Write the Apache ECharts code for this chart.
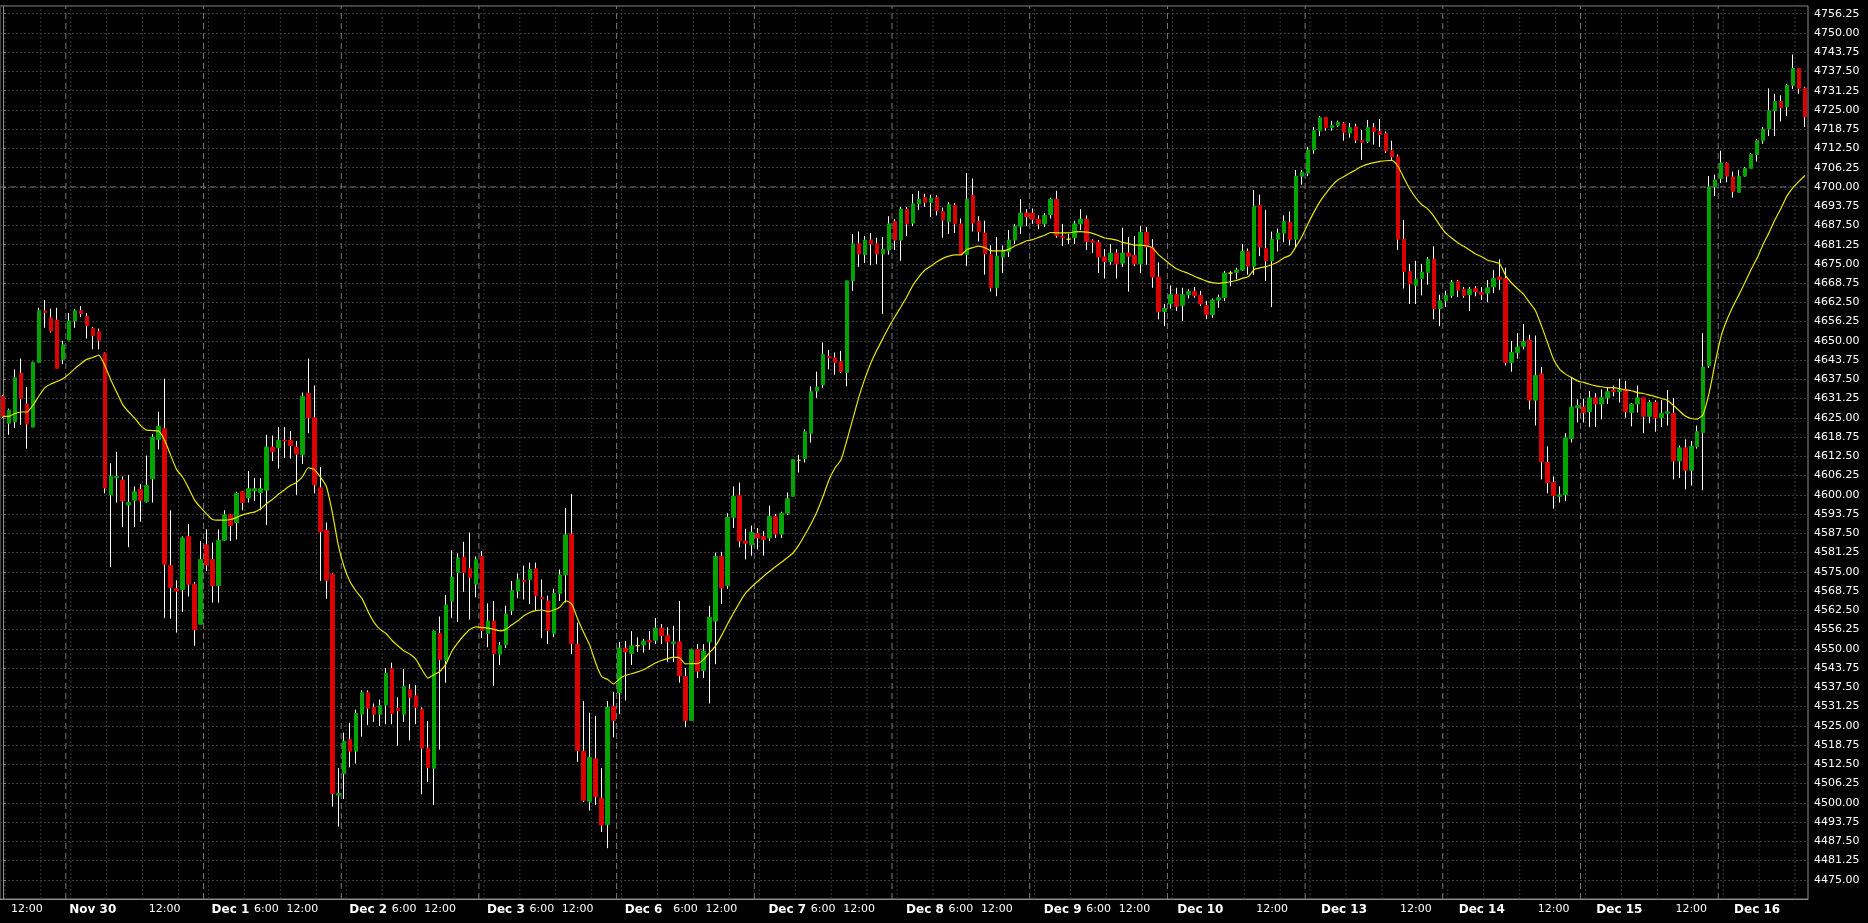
<!DOCTYPE html>
<html><head><meta charset="utf-8">
<script src="https://cdn.jsdelivr.net/npm/echarts@6/dist/echarts.min.js"></script>
<style>html,body{margin:0;padding:0;background:#000;}#c{width:1868px;height:923px;}</style>
</head><body><div id="c"></div>
<script>
// ---- data (hourly bars, 23 bars per trading day) ----
const sessionNames = ['Nov 29','Nov 30','Dec 1','Dec 2','Dec 3','Dec 6','Dec 7','Dec 8','Dec 9','Dec 10','Dec 13','Dec 14','Dec 15','Dec 16'];
const opens = [
4632.0,4623.25,4623.75,4639.5,4629.5,4622.0,4643.0,4659.75,4657.5,4656.75,4644.0,
4650.25,4656.5,4659.75,4658.0,4654.0,4653.0,4646.0,4600.0,4605.5,4604.75,4596.75,4598.25,4601.75,4597.75,4605.25,4618.0,4621.5,4577.0,4569.5,4569.25,4586.5,4571.0,4558.0,
4583.75,4579.0,4570.5,4585.25,4593.5,4591.0,4601.0,4599.0,4601.25,4600.75,4601.5,4615.5,4615.25,4617.75,4617.75,4615.5,4613.0,4633.0,4625.0,4602.25,4588.5,4574.25,4502.5,
4509.5,4520.5,4516.75,4528.75,4535.75,4531.0,4528.75,4531.75,4543.5,4530.75,4528.75,4536.75,4534.75,4530.25,4517.75,4511.25,4555.0,4546.25,4565.5,4574.75,4579.75,4576.0,4571.0,
4580.0,4555.0,4559.0,4548.25,4551.25,4562.5,4568.75,4572.25,4572.5,4576.0,4566.75,4565.5,4555.0,4568.0,4574.0,4587.25,4551.5,4516.75,4500.5,4514.25,4501.5,4493.0,4531.25,
4535.75,4550.25,4548.5,4551.0,4551.25,4552.75,4552.75,4556.75,4554.25,4551.75,4552.25,4541.0,4526.75,4549.75,4543.0,4552.25,4559.0,4580.0,4570.5,4592.75,4599.75,4585.0,4583.75,
4587.5,4586.5,4586.0,4593.0,4587.25,4594.0,4599.5,4611.25,4611.75,4620.0,4633.75,4635.75,4645.0,4644.5,4643.25,4639.75,4669.5,4681.5,4678.0,4682.75,4681.5,4678.25,4679.5,
4688.75,4682.75,4692.75,4688.25,4694.5,4696.5,4695.0,4696.5,4692.0,4688.75,4694.0,4688.0,4678.0,4697.25,4688.75,4685.0,4678.0,4667.25,4677.25,4679.0,4682.75,4687.25,4691.5,
4691.5,4689.5,4688.0,4691.0,4696.0,4684.0,4683.0,4683.5,4688.0,4689.5,4682.5,4682.0,4677.25,4675.75,4678.5,4675.25,4678.5,4677.75,4675.0,4685.25,4680.25,4670.75,4659.5,
4662.0,4665.0,4661.5,4665.0,4666.0,4664.75,4661.5,4658.5,4663.25,4664.0,4672.0,4672.25,4673.0,4679.0,4674.25,4694.0,4680.0,4676.0,4683.0,4685.0,4688.5,4683.0,4703.5,
4704.5,4712.0,4718.25,4722.5,4719.25,4720.0,4720.5,4717.5,4719.5,4715.0,4714.75,4719.25,4718.0,4717.25,4711.75,4709.75,4683.0,4672.5,4668.0,4670.25,4672.25,4676.5,4660.5,
4663.0,4664.75,4669.25,4666.75,4665.0,4667.0,4665.75,4665.5,4667.5,4670.75,4670.25,4643.0,4646.25,4648.25,4650.25,4630.75,4639.25,4610.5,4604.0,4599.5,4600.0,4618.25,4628.25,
4628.5,4627.0,4631.5,4629.5,4631.5,4634.0,4633.5,4634.25,4626.75,4629.5,4631.5,4625.5,4630.0,4625.0,4626.5,4626.5,4611.0,4615.25,4608.0,4615.75,4620.25,4642.0,4700.0,
4702.75,4707.75,4703.25,4698.25,4703.5,4706.0,4710.5,4715.0,4718.75,4724.75,4727.75,4726.0,4733.0,4738.5,4732.0];
const highs = [
4632.5,4628.0,4640.75,4644.25,4635.0,4643.25,4660.75,4663.25,4660.5,4660.75,4650.0,
4659.0,4660.25,4661.25,4659.0,4654.5,4654.0,4646.25,4610.25,4614.0,4606.0,4606.5,4602.75,4603.5,4612.75,4619.75,4627.0,4637.75,4595.0,4572.25,4586.5,4590.5,4571.75,4585.0,
4588.75,4584.5,4588.75,4595.0,4593.75,4601.0,4601.25,4607.75,4605.5,4605.5,4619.5,4619.25,4622.0,4622.0,4620.75,4617.5,4633.25,4644.25,4635.5,4609.0,4591.0,4574.5,4511.25,
4522.75,4526.0,4530.25,4536.5,4536.5,4532.25,4533.5,4543.75,4545.5,4534.25,4543.5,4538.5,4538.25,4531.0,4526.5,4556.0,4560.5,4567.5,4582.0,4581.0,4584.75,4587.75,4580.0,
4581.75,4564.75,4565.5,4552.25,4564.0,4572.0,4574.5,4577.0,4578.0,4578.0,4572.5,4567.25,4569.5,4575.75,4595.75,4600.25,4558.5,4533.0,4529.25,4528.25,4511.25,4533.0,4536.0,
4552.25,4552.5,4555.75,4553.75,4553.25,4555.75,4560.0,4558.0,4557.0,4557.5,4565.5,4543.75,4550.0,4551.5,4551.5,4564.0,4581.25,4581.5,4594.0,4602.75,4604.0,4589.0,4590.0,
4589.25,4588.25,4596.5,4593.75,4594.5,4600.75,4611.5,4613.0,4621.25,4635.25,4640.0,4649.5,4647.0,4646.25,4646.75,4669.5,4684.75,4685.5,4684.0,4685.0,4683.5,4683.75,4690.5,
4689.5,4693.5,4693.5,4697.75,4698.75,4697.75,4697.5,4697.25,4693.25,4695.0,4694.75,4689.75,4704.5,4702.75,4690.5,4689.0,4681.0,4683.75,4681.0,4686.0,4688.0,4696.0,4692.75,
4693.0,4690.75,4691.5,4696.5,4698.75,4688.0,4684.75,4689.0,4692.75,4690.75,4683.0,4682.75,4679.75,4681.5,4679.75,4686.75,4683.75,4684.0,4687.25,4687.0,4683.0,4675.5,4662.0,
4668.0,4667.25,4667.25,4666.75,4667.5,4666.25,4663.0,4663.75,4665.0,4672.75,4672.75,4673.75,4681.5,4680.0,4699.0,4697.5,4692.5,4685.5,4686.5,4690.75,4692.0,4705.5,4705.5,
4713.0,4719.5,4723.0,4722.75,4721.5,4721.5,4721.0,4720.75,4720.5,4718.5,4721.75,4720.75,4722.0,4718.0,4715.0,4710.5,4689.25,4675.0,4676.0,4675.0,4677.25,4680.75,4665.0,
4666.25,4669.75,4669.75,4667.5,4667.5,4667.75,4667.5,4669.75,4673.0,4676.5,4673.75,4650.0,4652.5,4655.5,4652.0,4651.75,4641.5,4615.75,4606.0,4602.75,4620.0,4638.0,4631.0,
4631.25,4633.75,4633.0,4634.25,4634.75,4635.5,4637.75,4637.0,4629.75,4635.5,4631.5,4630.75,4630.75,4630.75,4634.0,4631.5,4616.0,4618.0,4617.5,4622.5,4652.5,4703.5,4704.0,
4711.75,4708.0,4705.0,4705.5,4706.5,4711.0,4715.5,4719.5,4732.0,4730.25,4729.75,4733.5,4743.0,4738.5,4732.5];
const lows = [
4625.0,4619.5,4621.75,4622.75,4615.0,4622.0,4643.0,4654.25,4652.75,4641.0,4642.5,
4650.25,4654.25,4657.75,4650.75,4647.25,4647.25,4600.5,4576.5,4597.5,4589.5,4583.0,4589.5,4591.25,4597.5,4597.5,4614.75,4560.0,4559.75,4555.25,4562.0,4567.0,4551.0,4558.0,
4575.25,4565.0,4565.0,4585.0,4585.0,4585.5,4595.0,4597.5,4598.0,4595.0,4590.25,4611.0,4608.5,4612.0,4611.75,4600.0,4610.0,4620.0,4600.5,4572.0,4566.25,4498.75,4492.25,
4501.25,4511.5,4512.75,4521.5,4525.25,4526.25,4525.0,4525.5,4525.5,4518.5,4526.25,4520.25,4525.5,4502.75,4506.75,4499.25,4517.25,4539.0,4560.0,4558.75,4568.5,4559.5,4566.75,
4553.5,4550.5,4538.0,4544.75,4550.25,4561.0,4566.5,4566.0,4564.5,4562.5,4553.5,4551.5,4553.75,4565.5,4565.0,4548.25,4513.25,4500.25,4497.5,4499.25,4490.5,4485.25,4521.25,
4528.75,4533.25,4544.75,4549.0,4548.75,4549.75,4551.5,4551.5,4545.75,4545.75,4539.0,4524.5,4526.75,4540.5,4540.5,4532.25,4545.0,4564.5,4569.5,4589.25,4583.0,4579.0,4580.25,
4582.25,4580.25,4585.0,4586.0,4586.0,4593.5,4599.5,4607.25,4610.5,4617.0,4631.5,4634.75,4640.75,4639.0,4639.5,4635.25,4666.25,4674.0,4675.25,4674.5,4675.0,4658.75,4678.0,
4679.5,4676.0,4684.0,4687.25,4692.5,4693.5,4690.25,4690.75,4683.5,4684.75,4685.0,4678.0,4674.25,4685.5,4682.25,4671.5,4666.0,4664.5,4672.0,4677.25,4681.5,4684.75,4687.25,
4688.0,4686.25,4687.0,4689.75,4683.5,4680.75,4681.5,4681.5,4686.0,4679.5,4678.5,4672.0,4670.25,4674.75,4670.25,4674.0,4666.0,4674.25,4672.0,4674.75,4667.25,4657.0,4654.75,
4660.5,4659.75,4656.5,4663.75,4664.0,4661.25,4657.0,4657.5,4660.75,4663.0,4667.75,4670.0,4672.75,4671.5,4671.5,4677.5,4669.5,4661.0,4679.0,4682.0,4681.0,4680.25,4700.75,
4703.5,4710.75,4716.5,4718.25,4718.25,4719.5,4715.0,4716.0,4714.25,4708.75,4714.25,4713.75,4713.0,4711.0,4708.75,4679.5,4667.0,4662.0,4662.0,4664.75,4668.25,4657.0,4654.75,
4661.0,4664.0,4664.25,4664.0,4659.75,4664.5,4663.25,4662.5,4665.5,4666.5,4642.0,4640.0,4644.25,4647.25,4627.75,4622.5,4605.0,4600.5,4595.5,4597.5,4598.0,4617.0,4623.5,
4623.5,4622.0,4622.0,4624.5,4629.5,4632.0,4630.0,4625.0,4622.25,4626.75,4620.0,4623.25,4620.5,4622.0,4622.5,4605.0,4605.5,4601.75,4603.0,4615.0,4601.5,4641.25,4697.0,
4701.25,4701.5,4696.5,4698.25,4703.25,4706.0,4708.25,4714.0,4716.5,4716.5,4721.25,4723.0,4731.75,4730.25,4719.5];
const closes = [
4625.5,4627.5,4638.0,4631.25,4623.0,4643.0,4659.75,4659.25,4653.25,4641.0,4648.75,
4656.5,4659.75,4658.75,4655.0,4651.75,4650.25,4602.25,4606.0,4606.0,4598.0,4597.5,4601.0,4598.25,4603.0,4618.75,4622.25,4577.5,4570.0,4568.75,4586.0,4571.0,4556.25,4579.0,
4577.25,4570.5,4585.25,4593.5,4590.0,4600.5,4597.5,4602.0,4602.0,4602.0,4615.5,4614.0,4617.75,4617.5,4616.0,4613.25,4632.0,4625.0,4603.25,4588.0,4572.25,4503.0,4503.0,
4520.0,4516.75,4529.0,4535.75,4530.75,4528.75,4531.5,4542.0,4529.0,4530.0,4537.75,4534.25,4531.0,4517.75,4511.5,4555.75,4546.5,4564.25,4573.25,4579.5,4574.75,4573.25,4579.0,
4556.0,4559.0,4548.5,4551.0,4561.25,4569.0,4572.5,4571.75,4575.75,4567.25,4566.25,4556.0,4568.0,4574.0,4587.0,4551.75,4517.0,4500.75,4514.75,4502.0,4492.75,4531.0,4526.75,
4550.25,4549.0,4551.0,4551.0,4552.5,4552.25,4556.75,4554.25,4552.25,4552.25,4541.25,4526.75,4549.75,4542.75,4549.25,4560.25,4580.0,4569.75,4592.75,4599.5,4585.0,4584.25,4587.75,
4586.0,4585.5,4593.0,4587.25,4594.0,4598.75,4611.5,4611.25,4620.5,4633.5,4635.0,4645.5,4644.5,4643.0,4640.0,4669.5,4681.5,4678.25,4682.75,4681.5,4678.25,4679.75,4688.0,
4682.75,4692.75,4688.0,4694.5,4696.0,4695.0,4696.25,4692.25,4689.25,4694.25,4688.0,4678.0,4696.0,4688.25,4685.5,4678.25,4667.25,4677.5,4679.0,4682.75,4687.25,4691.5,4690.25,
4689.5,4688.0,4690.75,4696.0,4684.25,4683.5,4683.0,4688.0,4689.5,4682.25,4682.0,4677.25,4675.75,4678.5,4675.0,4678.5,4677.5,4675.0,4685.25,4680.5,4670.75,4659.5,4660.5,
4665.0,4661.25,4665.0,4666.0,4664.75,4662.0,4658.5,4663.25,4664.0,4672.0,4672.0,4673.0,4679.0,4674.25,4693.75,4680.5,4676.0,4683.0,4685.0,4688.75,4683.0,4703.5,4704.75,
4712.0,4718.25,4722.5,4719.25,4720.0,4721.0,4717.75,4719.25,4715.25,4714.5,4719.25,4718.0,4717.0,4711.75,4709.75,4683.0,4672.5,4668.5,4670.0,4672.25,4676.5,4660.5,4663.0,
4664.75,4669.0,4666.5,4664.75,4666.75,4666.0,4665.0,4667.25,4670.25,4670.0,4643.0,4646.25,4648.0,4649.75,4630.75,4638.75,4610.75,4604.0,4599.75,4600.0,4618.5,4628.5,4629.0,
4626.75,4631.5,4629.5,4631.5,4633.5,4633.5,4634.0,4627.0,4629.5,4631.5,4625.5,4630.0,4625.0,4626.5,4627.0,4611.0,4615.25,4608.0,4615.75,4620.5,4641.5,4700.0,4702.25,
4707.75,4703.5,4698.5,4703.5,4706.0,4710.5,4715.0,4718.75,4724.75,4727.75,4725.75,4733.0,4738.5,4732.0,4722.75];
const maValues = [
4625.5,4625.5,4626.4,4626.9,4626.9,4629.1,4632.1,4634.8,4636.0,4636.8,4637.7,
4639.2,4641.0,4642.6,4644.0,4644.6,4645.4,4642.0,4637.4,4633.3,4629.3,4626.9,4624.9,4622.5,4621.0,4620.9,4620.7,4617.7,4612.9,4608.2,4605.8,4602.2,4598.3,4595.9,
4593.8,4592.0,4591.8,4591.8,4592.0,4592.6,4593.5,4594.0,4594.4,4595.4,4597.1,4598.5,4600.2,4601.6,4603.0,4604.0,4605.8,4608.8,4608.2,4605.8,4602.8,4594.4,4583.7,
4576.5,4571.7,4568.7,4566.2,4562.0,4558.5,4556.3,4554.9,4552.7,4550.9,4549.3,4548.2,4546.5,4543.2,4540.5,4541.6,4542.7,4545.1,4549.3,4552.0,4554.4,4556.3,4557.1,
4556.9,4556.7,4556.3,4555.8,4556.3,4557.8,4559.1,4560.7,4561.8,4562.4,4562.6,4562.1,4562.6,4563.5,4565.6,4564.5,4559.6,4555.3,4551.2,4545.4,4541.0,4540.0,4538.6,
4540.3,4541.4,4541.9,4542.5,4543.2,4544.3,4545.4,4546.2,4546.8,4547.3,4547.1,4545.1,4545.2,4545.2,4546.5,4548.7,4550.9,4554.2,4558.0,null,null,4568.0,null,
null,4573.5,null,null,null,4579.6,4581.2,4583.9,4587.2,4590.7,4594.7,4599.6,4605.0,4608.8,4611.5,4618.0,4625.0,4632.0,4637.9,4643.0,4647.1,4650.9,4654.6,
4657.9,4661.1,4664.4,4668.1,4670.8,4673.0,4674.3,4675.7,4676.8,4677.5,4677.9,4677.9,4679.7,4680.3,4680.8,4680.3,4679.3,4679.2,4679.2,4679.7,4680.8,4681.6,4682.5,
4682.9,4683.6,4684.3,4685.2,4685.1,4685.1,4685.1,4685.4,4685.5,4685.3,4684.9,4684.2,4683.4,4683.1,4682.7,4682.0,4681.6,4681.1,4681.1,4680.9,4680.2,4678.0,4676.4,
4674.8,4673.4,4672.6,4671.9,4671.0,4670.2,4669.4,4668.9,4668.7,4668.9,4669.2,4669.6,4670.3,4670.8,4673.2,4673.7,4674.1,4674.8,4675.7,4677.0,4677.8,4680.7,4684.0,
4688.1,4691.9,4695.3,4698.0,4700.4,4702.3,4703.4,4704.5,4705.6,4706.7,4707.4,4707.9,4708.3,4708.5,4708.6,4706.7,4702.9,4699.3,4696.4,4694.2,4692.8,4690.5,4687.5,
4685.0,4683.4,4681.9,4680.7,4679.4,4678.2,4677.3,4676.2,4675.7,4675.1,4671.2,4668.8,4666.9,4665.1,4662.4,4659.7,4654.8,4649.4,4644.0,4640.8,4639.2,4638.1,4637.0,
4636.5,4635.9,4635.4,4635.1,4634.8,4634.8,4634.5,4634.1,4633.8,4633.2,4632.9,4632.4,4631.9,4631.3,4630.7,4629.1,4627.3,4625.6,4624.8,4624.6,4626.2,4633.2,4642.9,
4651.6,4657.0,4661.3,4665.1,4669.1,4673.2,4676.9,4681.3,4685.2,4689.4,4693.1,4697.1,4699.8,4701.8,4703.7];
const priceLevel = 4700;          // dashed horizontal level line
const yTickStep = 6.25;
const yMin = 4468.75, yMax = 4758.75;
// x-axis tick labels: [bar index, text]
const xTickLabels = [[4,'12:00'],[15,'Nov 30'],[27,'12:00'],[38,'Dec 1'],[44,'6:00'],[50,'12:00'],
 [61,'Dec 2'],[67,'6:00'],[73,'12:00'],[84,'Dec 3'],[90,'6:00'],[96,'12:00'],
 [107,'Dec 6'],[114,'6:00'],[120,'12:00'],[131,'Dec 7'],[137,'6:00'],[143,'12:00'],
 [154,'Dec 8'],[160,'6:00'],[166,'12:00'],[177,'Dec 9'],[183,'6:00'],[189,'12:00'],
 [200,'Dec 10'],[212,'12:00'],[224,'Dec 13'],[236,'12:00'],[247,'Dec 14'],[259,'12:00'],
 [270,'Dec 15'],[282,'12:00'],[293,'Dec 16']];

// ---- build ----
const N = opens.length;
const BARS_PER_DAY = 23, FIRST_OFFSET = 12; // bar 0 is 06:00 of the Nov 29 session (session starts 18:00)
const categories = [];
for (let i = 0; i < N; i++) {
  const k = Math.floor((i + FIRST_OFFSET) / BARS_PER_DAY);
  const h = (18 + (i + FIRST_OFFSET) % BARS_PER_DAY) % 24;
  categories.push(sessionNames[k] + ' ' + h + ':00');
}
const wickData = opens.map((o, i) => [o, closes[i], lows[i], highs[i]]);
const bodyData = opens.map((o, i) => [o, closes[i], Math.min(o, closes[i]), Math.max(o, closes[i])]);
const labelMap = new Map(xTickLabels);

// session boundaries and 6-hour grid positions
const dayLines = [], hourLines = [];
for (let s = -FIRST_OFFSET; s < N; s += BARS_PER_DAY) {
  if (s > 0) dayLines.push(s - 0.5);
  [0, 6, 12, 18].forEach(off => { const i = s + off; if (i >= 0 && i < N) hourLines.push(i + 0.33); });
}
function vSegs(xs) { const d = []; xs.forEach(x => { d.push([x, yMin], [x, yMax], [x, null]); }); return d; }

const FONT = 'DejaVu Sans';
const chart = echarts.init(document.getElementById('c'), null, {renderer: 'canvas'});
chart.setOption({
  backgroundColor: '#000000',
  animation: false,
  grid: {left: 0, top: 6, width: 1808, height: 893, show: true, borderColor: '#8a8a8a', borderWidth: 1, backgroundColor: 'transparent'},
  xAxis: [{
    type: 'category', data: categories, boundaryGap: true,
    axisLine: {show: true, lineStyle: {color: '#8a8a8a', width: 1}},
    axisTick: {show: false},
    splitLine: {show: false},
    axisLabel: {
      interval: (idx) => labelMap.has(idx),
      margin: 5,
      formatter: (v, idx) => {
        const t = labelMap.get(idx);
        if (!t) return '';
        return /:/.test(t) ? '{t|' + t + '}' : '{b|' + t + '}';
      },
      rich: {
        b: {fontFamily: FONT, fontWeight: 'bold', fontSize: 12, color: '#ffffff'},
        t: {fontFamily: FONT, fontSize: 11, color: '#ffffff'}
      }
    }
  }, {
    type: 'value', min: -0.5, max: N - 0.5, show: false, splitLine: {show: false}
  }],
  yAxis: {
    type: 'value', position: 'right', min: yMin, max: yMax, interval: yTickStep,
    axisLine: {show: true, lineStyle: {color: '#8a8a8a'}},
    axisTick: {show: true, length: 3, lineStyle: {color: '#8a8a8a'}},
    axisLabel: {
      color: '#ffffff', fontFamily: FONT, fontSize: 11, margin: 6,
      showMinLabel: false, showMaxLabel: false,
      formatter: v => v.toFixed(2)
    },
    splitLine: {show: true, lineStyle: {color: '#3a3a3a', type: [2, 2], width: 1}}
  },
  series: [
    {
      type: 'line', xAxisIndex: 1, data: vSegs(hourLines), showSymbol: false, silent: true, z: 0,
      lineStyle: {color: '#3a3a3a', width: 1, type: [2, 2]}, connectNulls: false
    },
    {
      type: 'line', xAxisIndex: 1, data: vSegs(dayLines), showSymbol: false, silent: true, z: 0,
      lineStyle: {color: '#7a7a7a', width: 1, type: [6, 4]}, connectNulls: false
    },
    {
      type: 'line', xAxisIndex: 1, data: [[-0.5, priceLevel], [N - 0.5, priceLevel]], showSymbol: false, silent: true, z: 0,
      lineStyle: {color: '#6e6e6e', width: 1, type: [6, 4]}
    },
    {
      type: 'candlestick', data: wickData, barWidth: 0, z: 2, silent: true,
      itemStyle: {color: '#ffffff', color0: '#ffffff', borderColor: '#ffffff', borderColor0: '#ffffff', borderColorDoji: '#ffffff', borderWidth: 1}
    },
    {
      type: 'candlestick', data: bodyData, barWidth: 4, z: 3, silent: true,
      itemStyle: {color: '#00a400', color0: '#dc0000', borderColor: '#00a400', borderColor0: '#dc0000', borderColorDoji: '#e8e800', borderWidth: 1}
    },
    {
      type: 'line', data: maValues, connectNulls: true, showSymbol: false, smooth: 0.2, z: 4, silent: true,
      lineStyle: {color: '#e6e600', width: 1.2}
    }
  ]
});
</script>
</body></html>
